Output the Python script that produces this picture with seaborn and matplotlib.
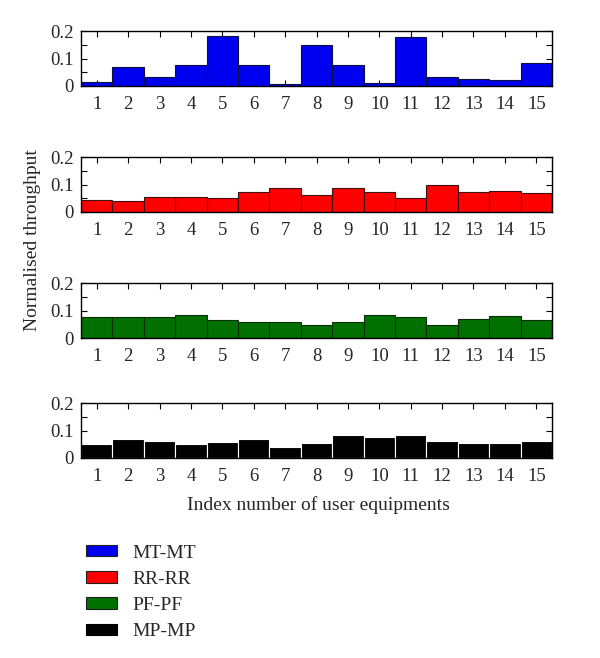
import numpy as np
import pandas as pd
import matplotlib
matplotlib.use("Agg")
import matplotlib.pyplot as plt
import seaborn as sns
from matplotlib.patches import Patch

# user equipment index
ue_index = [str(i) for i in range(1, 16)]

# normalised throughput per scheme
mt_mt = [0.013, 0.068, 0.034, 0.075, 0.181, 0.075, 0.006, 0.149, 0.078, 0.010,
         0.178, 0.032, 0.025, 0.023, 0.082]
rr_rr = [0.044, 0.041, 0.055, 0.056, 0.050, 0.073, 0.087, 0.062, 0.088, 0.072,
         0.052, 0.098, 0.074, 0.078, 0.070]
pf_pf = [0.076, 0.075, 0.078, 0.084, 0.065, 0.059, 0.059, 0.046, 0.058, 0.084,
         0.076, 0.047, 0.069, 0.079, 0.067]
mp_mp = [0.052, 0.069, 0.061, 0.052, 0.060, 0.069, 0.040, 0.053, 0.082, 0.077,
         0.082, 0.061, 0.056, 0.056, 0.063]

schemes = ["MT-MT", "RR-RR", "PF-PF", "MP-MP"]
colors = ["#0000f0", "#ff0000", "#007000", "#000000"]
edges = ["#101040", "#401010", "#0a300a", "#ffffff"]
series = [mt_mt, rr_rr, pf_pf, mp_mp]

sns.set_style("ticks")
plt.rcParams["font.family"] = ["Liberation Serif", "DejaVu Serif"]
plt.rcParams["font.size"] = 13

fig = plt.figure(figsize=(6, 6.58), dpi=100)
tops = [31, 157, 283, 403]  # pixel tops of each panel
for top, name, vals, col, ec in zip(tops, schemes, series, colors, edges):
    ax = fig.add_axes([81 / 600, 1 - (top + 55) / 658, 471 / 600, 55 / 658])
    df = pd.DataFrame({"ue": ue_index, "thr": vals})
    sns.barplot(data=df, x="ue", y="thr", color=col, saturation=1, width=1,
                edgecolor=ec, linewidth=0.8, ax=ax)
    ax.set_xlim(-0.5, 14.5)
    ax.set_ylim(0, 0.2)
    ax.set_yticks([0, 0.1, 0.2], ["0", "0.1", "0.2"])
    ax.set_yticks([0.05, 0.15], minor=True)
    ax.tick_params(which="both", direction="in", top=True, right=True,
                   left=True, bottom=True, length=4, width=0.8,
                   color="black", labelsize=13.5)
    ax.tick_params(axis="x", pad=7)
    ax.tick_params(axis="y", pad=5)
    for s in ax.spines.values():
        s.set_linewidth(1.0)
        s.set_color("black")
    ax.set_xlabel("")
    ax.set_ylabel("")

fig.text(33 / 600, 1 - 240 / 658, "Normalised throughput", rotation=90,
         ha="center", va="center", fontsize=14)
fig.text(318 / 600, 1 - 505 / 658, "Index number of user equipments",
         ha="center", va="center", fontsize=14)

handles = [Patch(facecolor=c, edgecolor="#202020", linewidth=0.8) for c in colors[:3]]
handles.append(Patch(facecolor="black", edgecolor="black", linewidth=0.8))
fig.legend(handles, schemes, loc="upper left", bbox_to_anchor=(68 / 600, 1 - 527 / 658),
           frameon=False, fontsize=14, handlelength=1.6, handleheight=0.55,
           labelspacing=0.48, handletextpad=0.8)

fig.savefig("out.png", dpi=100)
